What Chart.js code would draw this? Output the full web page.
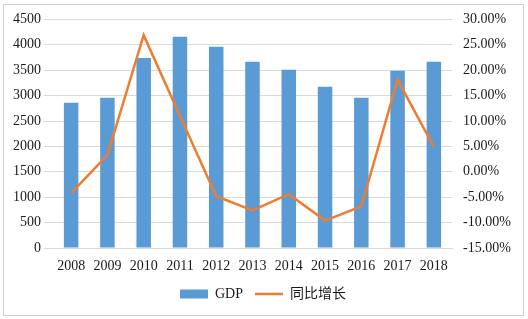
<!DOCTYPE html>
<html><head><meta charset="utf-8">
<script src="https://cdn.jsdelivr.net/npm/chart.js@4"></script>
<style>
html,body{margin:0;padding:0;background:#fff;}
#wrap{position:relative;width:528px;height:319px;}
#frame{position:absolute;left:3px;top:4px;width:521px;height:312px;border:1px solid #d0d0d0;box-sizing:border-box;pointer-events:none;}
canvas{position:absolute;left:0;top:0;}
</style></head>
<body>
<div id="wrap"><canvas id="c" width="528" height="319"></canvas><div id="frame"></div></div>
<script>
const years = ['2008','2009','2010','2011','2012','2013','2014','2015','2016','2017','2018'];
const gdp = [2860, 2960, 3740, 4160, 3960, 3665, 3510, 3175, 2960, 3490, 3665];
const growth = [-4.2, 3.3, 26.9, 11.0, -4.8, -7.6, -4.4, -9.6, -6.8, 18.1, 4.9];
const leftTicks = [0,500,1000,1500,2000,2500,3000,3500,4000,4500];
const rightTicks = [-15,-10,-5,0,5,10,15,20,25,30];

const serif = "'Liberation Serif', 'Noto Sans CJK SC', serif";
const txt = '#1a1a1a';

new Chart(document.getElementById('c'), {
  data: {
    labels: years,
    datasets: [
      { type: 'line', label: '同比增长', data: growth, yAxisID: 'y1',
        borderColor: '#ed7d31', backgroundColor: '#ed7d31', borderWidth: 2.5,
        pointRadius: 0, tension: 0, pointStyle: 'line', order: 0 },
      { type: 'bar', label: 'GDP', data: gdp, yAxisID: 'y',
        backgroundColor: '#5b9bd5', borderWidth: 0, pointStyle: 'rect',
        barPercentage: 0.4, categoryPercentage: 1.0, order: 1 }
    ]
  },
  options: {
    responsive: false, animation: false,
    layout: { padding: { left: 4, right: 6, top: 19, bottom: 8 } },
    plugins: {
      tooltip: { enabled: false },
      legend: {
        position: 'bottom',
        reverse: true,
        labels: {
          usePointStyle: true, pointStyleWidth: 28, boxHeight: 9,
          font: { family: serif, size: 14 }, color: txt, padding: 12
        }
      }
    },
    scales: {
      x: {
        grid: { display: false },
        border: { color: '#d9d9d9' },
        afterFit: s => { s.height = 27; },
        ticks: { font: { family: serif, size: 14 }, color: txt, padding: 2, maxRotation: 0 }
      },
      y: {
        position: 'left', min: 0, max: 4500,
        afterBuildTicks: s => { s.ticks = leftTicks.map(v => ({ value: v })); },
        afterFit: s => { s.width = 49; },
        grid: { color: '#d9d9d9', drawTicks: true, tickLength: 9 },
        border: { display: false },
        ticks: { font: { family: serif, size: 14 }, color: txt, padding: 3,
          callback: v => String(v) }
      },
      y1: {
        position: 'right', min: -15, max: 30,
        afterBuildTicks: s => { s.ticks = rightTicks.map(v => ({ value: v })); },
        afterFit: s => { s.width = 70; },
        grid: { display: false, drawTicks: false },
        border: { display: false },
        ticks: { font: { family: serif, size: 14 }, color: txt, padding: 11,
          callback: v => v.toFixed(2) + '%' }
      }
    }
  }
});
</script>
</body></html>
